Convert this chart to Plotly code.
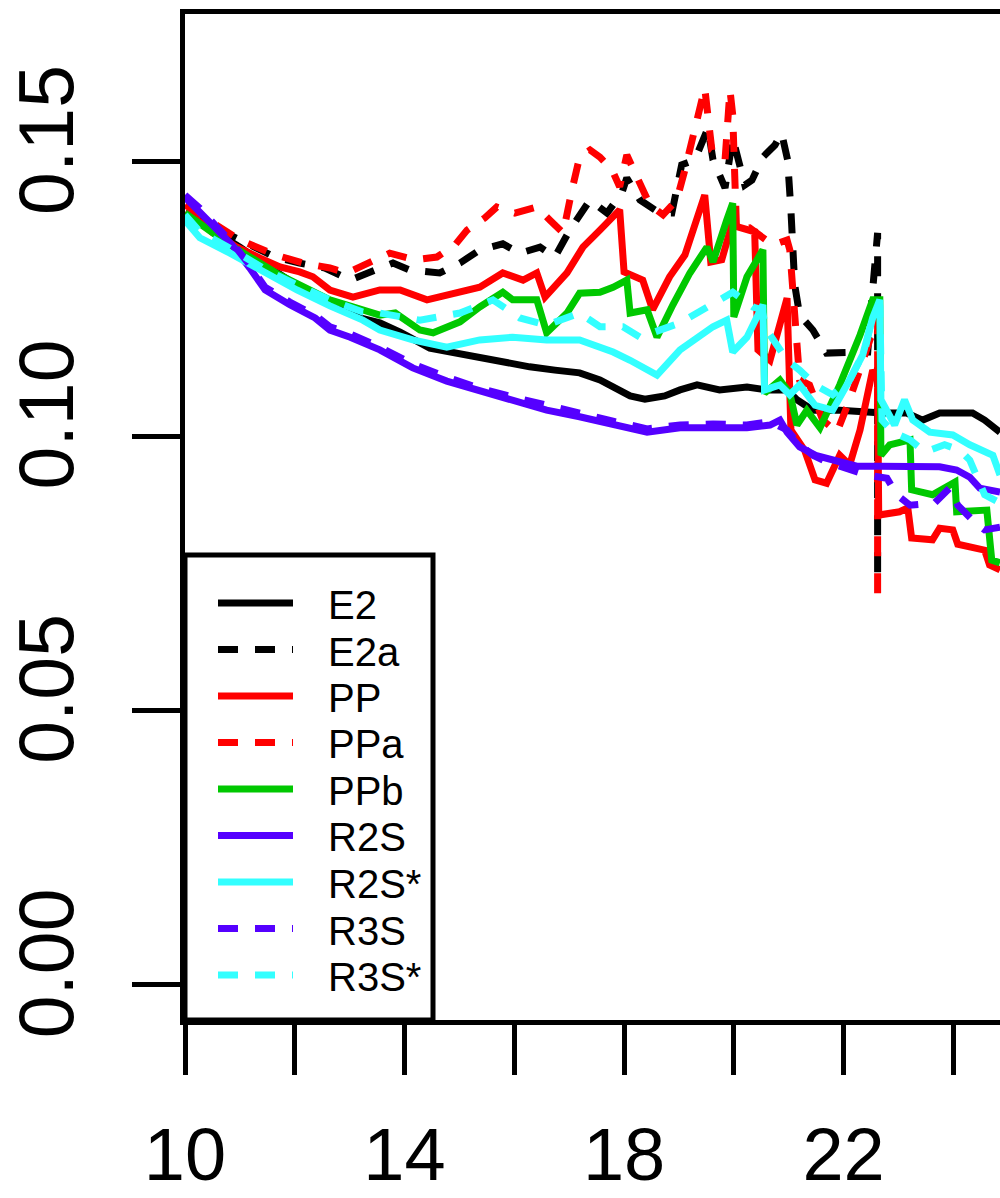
import plotly.graph_objects as go

# ---- series values (x, estimate) ----
e2_x = [10.00, 10.46, 11.00, 11.55, 12.09, 12.64, 13.19, 13.55, 13.92, 14.46, 14.92, 15.37, 15.83, 16.28,
        16.74, 17.19, 17.56, 17.80, 18.11, 18.38, 18.74, 19.02, 19.33, 19.74, 20.24, 20.60, 20.97, 21.15,
        21.44, 21.93, 22.30, 22.71, 23.15, 23.44, 23.75, 24.35, 24.57, 24.85]
e2_y = [0.1406, 0.1379, 0.1344, 0.1306, 0.1271, 0.1242, 0.1215, 0.1206, 0.1189, 0.1160, 0.1151, 0.1144,
        0.1135, 0.1126, 0.1120, 0.1115, 0.1102, 0.1089, 0.1073, 0.1067, 0.1073, 0.1084, 0.1093, 0.1084,
        0.1089, 0.1084, 0.1084, 0.1066, 0.1047, 0.1047, 0.1044, 0.1042, 0.1042, 0.1029, 0.1042, 0.1042,
        0.1029, 0.1007]

e2a_x = [10.00, 10.55, 11.09, 11.64, 12.09, 12.55, 13.01, 13.37, 13.79, 14.10, 14.64, 15.01, 15.37, 15.79,
         16.10, 16.47, 16.74, 17.01, 17.19, 17.38, 17.69, 17.96, 18.05, 18.29, 18.65, 18.87, 19.05, 19.29,
         19.53, 19.62, 19.84, 19.98, 20.20, 20.33, 20.53, 20.75, 20.87, 20.98, 21.04, 21.11, 21.20, 21.44,
         21.69, 22.17, 22.44, 22.53, 22.62, 22.62]
e2a_y = [0.1406, 0.1379, 0.1352, 0.1326, 0.1315, 0.1306, 0.1284, 0.1299, 0.1315, 0.1302, 0.1297, 0.1315,
         0.1339, 0.1350, 0.1333, 0.1344, 0.1326, 0.1375, 0.1403, 0.1430, 0.1406, 0.1443, 0.1470, 0.1430,
         0.1406, 0.1406, 0.1494, 0.1503, 0.1561, 0.1503, 0.1452, 0.1543, 0.1457, 0.1466, 0.1508, 0.1530,
         0.1552, 0.1503, 0.1412, 0.1275, 0.1220, 0.1193, 0.1151, 0.1153, 0.1153, 0.1266, 0.1370, 0.0743]

pp_x = [10.00, 10.27, 10.51, 10.95, 11.37, 11.73, 12.09, 12.33, 12.64, 13.06, 13.55, 13.92, 14.41, 14.88,
        15.37, 15.79, 16.16, 16.41, 16.56, 16.96, 17.25, 17.56, 17.92, 18.00, 18.34, 18.52, 18.83, 19.11,
        19.47, 19.58, 19.78, 19.96, 20.20, 20.38, 20.44, 20.66, 20.97, 21.04, 21.29, 21.48, 21.69, 21.93,
        22.11, 22.30, 22.53, 22.62, 22.64, 23.02, 23.17, 23.24, 23.62, 23.75, 23.99, 24.08, 24.57, 24.66,
        24.85]
pp_y = [0.1406, 0.1390, 0.1370, 0.1344, 0.1324, 0.1308, 0.1299, 0.1290, 0.1266, 0.1253, 0.1266, 0.1266,
        0.1248, 0.1260, 0.1271, 0.1297, 0.1284, 0.1297, 0.1253, 0.1297, 0.1344, 0.1375, 0.1412, 0.1299,
        0.1284, 0.1230, 0.1290, 0.1330, 0.1439, 0.1317, 0.1321, 0.1384, 0.1379, 0.1372, 0.1157, 0.1138,
        0.1251, 0.1011, 0.0974, 0.0920, 0.0914, 0.0965, 0.0947, 0.1011, 0.1120, 0.1102, 0.0856, 0.0862,
        0.0869, 0.0814, 0.0811, 0.0832, 0.0829, 0.0803, 0.0792, 0.0765, 0.0756]

ppa_x = [10.00, 10.46, 11.00, 11.31, 11.64, 12.15, 12.64, 12.95, 13.37, 13.73, 14.19, 14.59, 14.92, 15.14,
         15.46, 15.68, 16.01, 16.41, 16.65, 16.89, 17.05, 17.19, 17.38, 17.56, 17.78, 17.92, 18.05, 18.29,
         18.47, 18.71, 18.96, 19.11, 19.33, 19.47, 19.60, 19.84, 19.93, 19.98, 20.05, 20.29, 20.71, 20.97,
         21.02, 21.20, 21.38, 21.62, 21.88, 22.11, 22.48, 22.62, 22.62, 22.62, 22.62]
ppa_y = [0.1421, 0.1390, 0.1357, 0.1344, 0.1330, 0.1315, 0.1306, 0.1297, 0.1317, 0.1333, 0.1321, 0.1326,
         0.1348, 0.1375, 0.1397, 0.1417, 0.1406, 0.1417, 0.1393, 0.1370, 0.1448, 0.1508, 0.1521, 0.1508,
         0.1485, 0.1454, 0.1512, 0.1457, 0.1421, 0.1403, 0.1430, 0.1485, 0.1576, 0.1634, 0.1521, 0.1503,
         0.1630, 0.1585, 0.1375, 0.1379, 0.1348, 0.1357, 0.1339, 0.1102, 0.1093, 0.1029, 0.1007, 0.1066,
         0.1175, 0.1215, 0.0920, 0.0774, 0.0683]

ppb_x = [10.00, 10.82, 11.73, 12.64, 13.55, 13.83, 14.28, 14.52, 15.01, 15.37, 15.79, 15.97, 16.41, 16.59,
         16.96, 17.19, 17.56, 17.80, 18.05, 18.11, 18.42, 18.60, 18.89, 19.20, 19.51, 19.62, 19.87, 19.98,
         20.00, 20.24, 20.53, 20.56, 20.84, 21.02, 21.15, 21.33, 21.57, 21.93, 22.30, 22.53, 22.66, 22.68,
         22.84, 23.21, 23.24, 23.62, 24.03, 24.06, 24.61, 24.70, 24.85]
ppb_y = [0.1406, 0.1348, 0.1293, 0.1248, 0.1220, 0.1224, 0.1193, 0.1188, 0.1208, 0.1235, 0.1262, 0.1248,
         0.1248, 0.1188, 0.1224, 0.1260, 0.1262, 0.1271, 0.1284, 0.1224, 0.1230, 0.1180, 0.1239, 0.1297,
         0.1344, 0.1317, 0.1393, 0.1424, 0.1217, 0.1290, 0.1339, 0.1078, 0.1102, 0.1078, 0.1020, 0.1047,
         0.1015, 0.1093, 0.1184, 0.1248, 0.1248, 0.0965, 0.0984, 0.0993, 0.0902, 0.0893, 0.0916, 0.0862,
         0.0865, 0.0774, 0.0769]

r2s_x = [10.00, 10.27, 10.55, 10.86, 11.18, 11.46, 11.91, 12.37, 12.64, 13.01, 13.55, 14.15, 14.77, 15.37,
         15.97, 16.59, 17.19, 17.80, 18.42, 19.02, 19.62, 20.24, 20.66, 20.84, 20.97, 21.20, 21.51, 21.93,
         22.24, 22.66, 23.15, 23.75, 24.06, 24.30, 24.48, 24.85]
r2s_y = [0.1435, 0.1408, 0.1379, 0.1348, 0.1306, 0.1266, 0.1239, 0.1215, 0.1193, 0.1180, 0.1157, 0.1124,
         0.1100, 0.1082, 0.1066, 0.1047, 0.1035, 0.1022, 0.1007, 0.1015, 0.1016, 0.1015, 0.1020, 0.1029,
         0.1007, 0.0980, 0.0964, 0.0953, 0.0945, 0.0945, 0.0945, 0.0944, 0.0938, 0.0925, 0.0905, 0.0898]

r2s_star_x = [10.00, 10.27, 10.82, 11.42, 12.04, 12.64, 13.24, 13.55, 14.15, 14.77, 15.37, 15.97, 16.59,
              17.19, 17.80, 18.11, 18.60, 19.02, 19.62, 19.87, 19.98, 20.24, 20.53, 20.56, 20.84, 21.02,
              21.20, 21.48, 21.80, 22.11, 22.35, 22.53, 22.66, 22.68, 22.93, 23.11, 23.26, 23.57, 23.99,
              24.30, 24.72, 24.85]
r2s_star_y = [0.1393, 0.1361, 0.1333, 0.1299, 0.1266, 0.1237, 0.1211, 0.1193, 0.1175, 0.1162, 0.1175,
              0.1180, 0.1175, 0.1175, 0.1153, 0.1138, 0.1111, 0.1157, 0.1199, 0.1211, 0.1153, 0.1180,
              0.1239, 0.1084, 0.1093, 0.1075, 0.1093, 0.1056, 0.1047, 0.1102, 0.1148, 0.1215, 0.1248,
              0.1066, 0.1020, 0.1066, 0.1029, 0.1007, 0.1002, 0.0984, 0.0965, 0.0929]

r3s_x = [10.00, 10.27, 10.55, 10.86, 11.18, 11.46, 11.91, 12.37, 12.64, 13.01, 13.55, 14.15, 14.77, 15.37,
         15.97, 16.59, 17.19, 17.80, 18.42, 19.02, 19.62, 20.24, 20.66, 20.97, 21.20, 21.44, 21.69, 22.11,
         22.42, 22.79, 22.97, 23.21, 23.66, 23.93, 24.08, 24.39, 24.57, 24.85]
r3s_y = [0.1439, 0.1415, 0.1384, 0.1352, 0.1311, 0.1271, 0.1244, 0.1220, 0.1199, 0.1186, 0.1162, 0.1131,
         0.1107, 0.1087, 0.1071, 0.1055, 0.1042, 0.1027, 0.1013, 0.1020, 0.1022, 0.1020, 0.1026, 0.1011,
         0.0984, 0.0965, 0.0953, 0.0938, 0.0929, 0.0923, 0.0893, 0.0874, 0.0878, 0.0905, 0.0874, 0.0843,
         0.0829, 0.0834]

r3s_star_x = [10.00, 10.27, 10.82, 11.42, 12.04, 12.64, 13.24, 13.55, 14.28, 15.01, 15.61, 16.10, 16.59,
              17.19, 17.56, 17.98, 18.29, 19.02, 19.33, 19.74, 19.98, 20.35, 20.51, 20.60, 20.97, 21.20,
              21.48, 21.80, 22.11, 22.39, 22.53, 22.66, 22.70, 22.90, 23.21, 23.48, 23.84, 24.12, 24.30,
              24.57, 24.85]
r3s_star_y = [0.1403, 0.1372, 0.1342, 0.1306, 0.1275, 0.1248, 0.1226, 0.1224, 0.1211, 0.1224, 0.1248,
              0.1215, 0.1202, 0.1224, 0.1199, 0.1199, 0.1180, 0.1206, 0.1224, 0.1248, 0.1262, 0.1235,
              0.1230, 0.1193, 0.1138, 0.1120, 0.1093, 0.1075, 0.1102, 0.1157, 0.1220, 0.1239, 0.1029,
              0.1007, 0.0993, 0.0971, 0.0984, 0.0974, 0.0956, 0.0893, 0.0878]

# ---- series styling (drawing order = key order) ----
series_names = ["E2", "E2a", "PP", "PPa", "PPb", "R2S", "R2S*", "R3S", "R3S*"]
series_x = [e2_x, e2a_x, pp_x, ppa_x, ppb_x, r2s_x, r2s_star_x, r3s_x, r3s_star_x]
series_y = [e2_y, e2a_y, pp_y, ppa_y, ppb_y, r2s_y, r2s_star_y, r3s_y, r3s_star_y]
series_colors = ["#000000", "#000000", "#FF0000", "#FF0000", "#00C800",
                 "#5500FF", "#33FFFF", "#5500FF", "#33FFFF"]
series_dashed = [False, True, False, True, False, False, False, True, True]

x_ticks = [10, 12, 14, 16, 18, 20, 22, 24]
x_tick_text = ["10", "", "14", "", "18", "", "22", ""]
y_ticks = [0.00, 0.05, 0.10, 0.15]
y_tick_text = ["0.00", "0.05", "0.10", "0.15"]

FONT = "Liberation Sans, Arial, Helvetica, sans-serif"
LW = 7
DASH = "20px,17px"

fig = go.Figure()
for name, xs, ys, col, dashed in zip(series_names, series_x, series_y, series_colors, series_dashed):
    fig.add_trace(go.Scatter(
        x=xs, y=ys, mode="lines", name=name, showlegend=False,
        line=dict(color=col, width=LW, dash=DASH if dashed else "solid"),
    ))

# plot area geometry in pixels (used only to place the key box)
W, H = 1000, 1198
ML, MT, MB = 185, 14, 178
PW, PH = W - ML, H - MT - MB

def px_x(p):
    return (p - ML) / PW

def px_y(p):
    return (H - MB - p) / PH

# key box
fig.add_shape(type="rect", xref="paper", yref="paper",
              x0=px_x(185), x1=px_x(433), y0=px_y(1020), y1=px_y(555),
              line=dict(color="black", width=5), fillcolor="white", layer="above")

row0, step = 603, 46.5
for i, (name, col, dashed) in enumerate(zip(series_names, series_colors, series_dashed)):
    ry = row0 + i * step
    fig.add_shape(type="line", xref="paper", yref="paper",
                  x0=px_x(218), x1=px_x(293), y0=px_y(ry), y1=px_y(ry),
                  line=dict(color=col, width=LW, dash=DASH if dashed else "solid"),
                  layer="above")
    fig.add_annotation(xref="paper", yref="paper", x=px_x(326), y=px_y(ry + 2),
                       text=name, showarrow=False, xanchor="left", yanchor="middle",
                       font=dict(family=FONT, size=40, color="black"))

fig.update_layout(
    width=W, height=H,
    margin=dict(l=ML, r=0, t=MT, b=MB, autoexpand=False),
    paper_bgcolor="white", plot_bgcolor="white",
    showlegend=False,
    font=dict(family=FONT, color="black"),
    xaxis=dict(
        range=[10, 24.85], tickvals=x_ticks, ticktext=x_tick_text,
        ticks="outside", ticklen=50, tickwidth=5, tickcolor="black",
        showline=True, linewidth=5, linecolor="black", mirror=True,
        showgrid=False, zeroline=False, automargin=False,
        tickfont=dict(family=FONT, size=74, color="black"),
        ticklabelstandoff=16,
    ),
    yaxis=dict(
        range=[-0.00638, 0.17687], tickvals=y_ticks, ticktext=y_tick_text,
        ticks="outside", ticklen=48, tickwidth=5, tickcolor="black",
        showline=True, linewidth=5, linecolor="black", mirror=False,
        showgrid=False, zeroline=False, tickangle=-90, automargin=False,
        tickfont=dict(family=FONT, size=77, color="black"),
        ticklabelstandoff=28, ticklabelshift=-10,
    ),
)

fig.write_html("out.html")
